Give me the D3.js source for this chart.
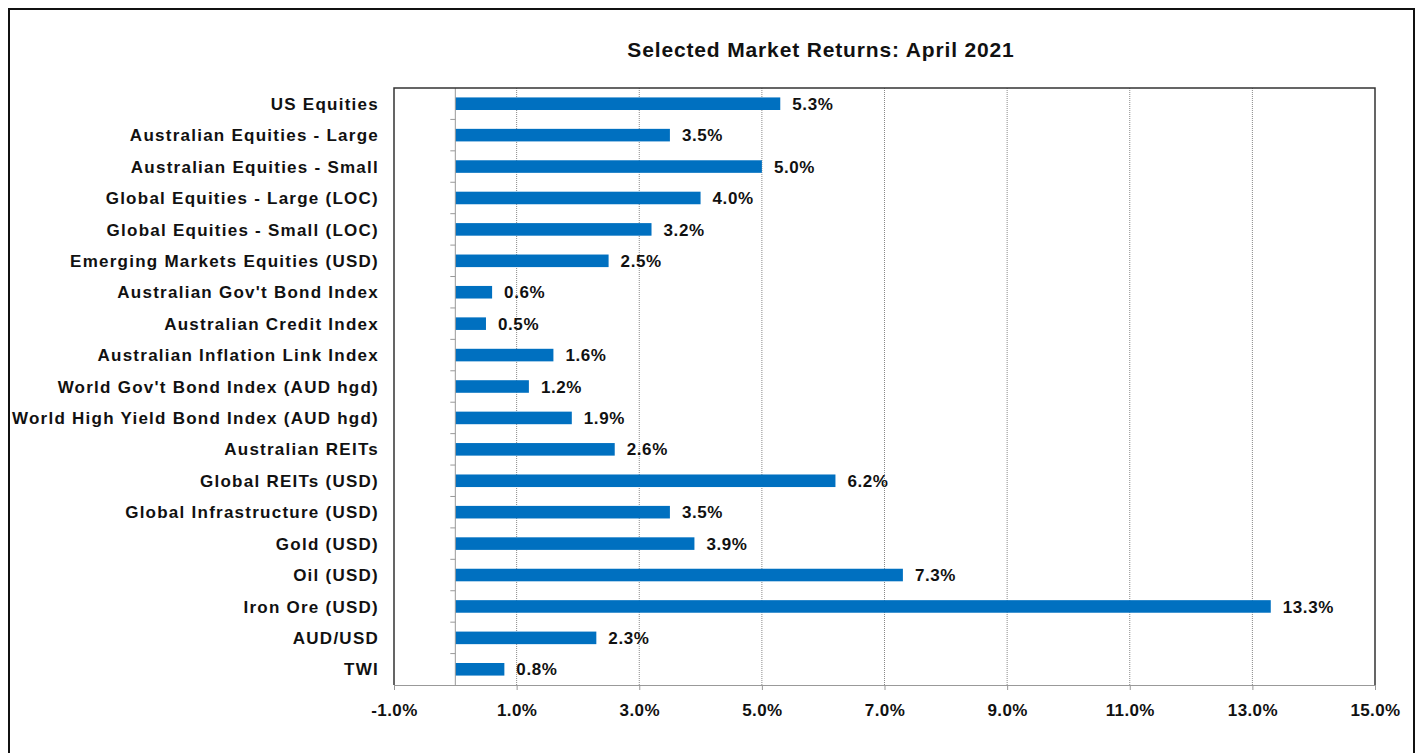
<!DOCTYPE html>
<html>
<head>
<meta charset="utf-8">
<script src="https://cdn.jsdelivr.net/npm/d3@7"></script>
<style>
  body { margin: 0; background: #fff; }
  text { font-family: "Liberation Sans", Arial, sans-serif; font-weight: bold; fill: #111; }
</style>
</head>
<body>
<div class="vis-barchart"></div>
<script>
const categories = [
    "US Equities", "Australian Equities - Large", "Australian Equities - Small",
    "Global Equities - Large (LOC)", "Global Equities - Small (LOC)",
    "Emerging Markets Equities (USD)", "Australian Gov't Bond Index",
    "Australian Credit Index", "Australian Inflation Link Index",
    "World Gov't Bond Index (AUD hgd)", "World High Yield Bond Index (AUD hgd)",
    "Australian REITs", "Global REITs (USD)", "Global Infrastructure (USD)",
    "Gold (USD)", "Oil (USD)", "Iron Ore (USD)", "AUD/USD", "TWI"
];
const returns = [5.3, 3.5, 5.0, 4.0, 3.2, 2.5, 0.6, 0.5, 1.6, 1.2, 1.9, 2.6, 6.2, 3.5, 3.9, 7.3, 13.3, 2.3, 0.8];
const xTicks = [-1, 1, 3, 5, 7, 9, 11, 13, 15];
const title = "Selected Market Returns: April 2021";

const W = 1418, H = 753;
const margin = { top: 88, right: 43, bottom: 68, left: 394 };
const width = W - margin.left - margin.right;
const height = H - margin.top - margin.bottom;

const root = d3.select(".vis-barchart").append("svg")
    .attr("width", W)
    .attr("height", H);

// outer frame
root.append("rect")
    .attr("x", 9).attr("y", 9)
    .attr("width", 1405).attr("height", 760)
    .attr("fill", "none")
    .attr("stroke", "#111")
    .attr("stroke-width", 2);

root.append("text")
    .attr("x", 821).attr("y", 57)
    .attr("text-anchor", "middle")
    .style("font-size", "21px")
    .style("letter-spacing", "0.85px")
    .text(title);

const svg = root.append("g")
    .attr("transform", "translate(" + margin.left + "," + margin.top + ")");

const x = d3.scaleLinear().domain([-1, 15]).range([0, width]);
const y = d3.scaleBand().domain(categories).range([0, height]).paddingInner(0.6).paddingOuter(0.3);
const yb = d3.scaleBand().domain(categories).range([0, height]);

// grid lines
svg.selectAll(".grid")
    .data(xTicks.slice(1, -1))
    .enter()
    .append("line")
    .attr("x1", d => x(d)).attr("x2", d => x(d))
    .attr("y1", 0).attr("y2", height)
    .attr("stroke", "#888")
    .attr("stroke-width", 1)
    .attr("stroke-dasharray", "1,1");

// bars
svg.selectAll(".bar")
    .data(returns)
    .enter()
    .append("rect")
    .attr("x", x(0))
    .attr("y", (d, i) => y(categories[i]))
    .attr("width", d => x(d) - x(0))
    .attr("height", y.bandwidth())
    .attr("fill", "#0070C0");

// value labels
svg.selectAll(".val")
    .data(returns)
    .enter()
    .append("text")
    .attr("x", d => x(d) + 12)
    .attr("y", (d, i) => y(categories[i]) + y.bandwidth() / 2)
    .attr("dy", "0.36em")
    .style("font-size", "17px")
    .style("letter-spacing", "0.6px")
    .text(d => d.toFixed(1) + "%");

// zero axis with category ticks
svg.append("line")
    .attr("x1", x(0)).attr("x2", x(0))
    .attr("y1", 0).attr("y2", height)
    .attr("stroke", "#999");
svg.selectAll(".ytick")
    .data(categories.slice(1))
    .enter()
    .append("line")
    .attr("x1", x(0) - 5).attr("x2", x(0))
    .attr("y1", d => yb(d)).attr("y2", d => yb(d))
    .attr("stroke", "#999");

// plot border
svg.append("path")
    .attr("d", `M0,${height}V0H${width}V${height}`)
    .attr("fill", "none")
    .attr("stroke", "#333")
    .attr("stroke-width", 1.5);

// category labels
svg.selectAll(".cat")
    .data(categories)
    .enter()
    .append("text")
    .attr("x", -15)
    .attr("y", d => yb(d) + yb.bandwidth() / 2)
    .attr("dy", "0.36em")
    .attr("text-anchor", "end")
    .style("font-size", "17px")
    .style("letter-spacing", "1.25px")
    .text(d => d);

// x axis
const xAxis = svg.append("g")
    .attr("class", "x axis")
    .attr("transform", "translate(0," + height + ")")
    .call(d3.axisBottom(x).tickValues(xTicks).tickSize(5).tickFormat(d => d.toFixed(1) + "%"));
xAxis.select(".domain").attr("stroke", "#999");
xAxis.selectAll(".tick line").attr("stroke", "#999");
xAxis.selectAll("text")
    .attr("y", 19)
    .style("font-size", "17px")
    .style("letter-spacing", "0.4px")
    .style("font-family", "'Liberation Sans', Arial, sans-serif")
    .style("font-weight", "bold")
    .attr("fill", "#111");
</script>
</body>
</html>
